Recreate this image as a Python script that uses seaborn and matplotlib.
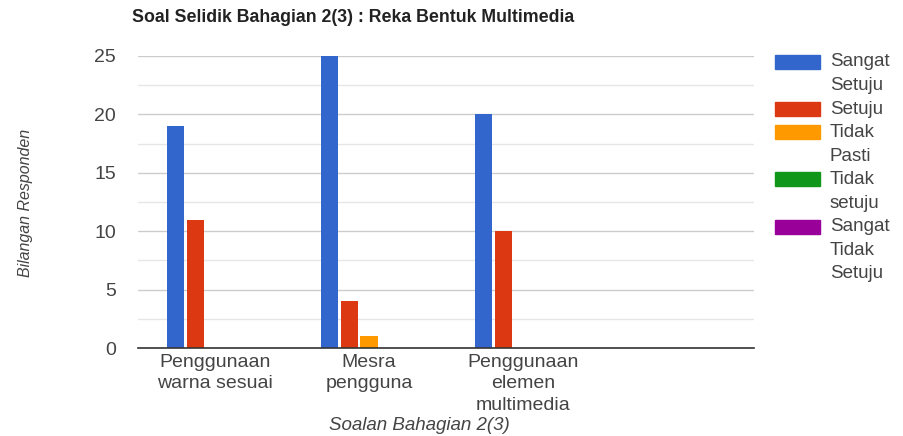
import pandas as pd
import numpy as np
import matplotlib
matplotlib.use("Agg")
import matplotlib.pyplot as plt
import seaborn as sns
from matplotlib.patches import Rectangle
from matplotlib.ticker import MultipleLocator

# data
soalan = ["Penggunaan\nwarna sesuai", "Mesra\npengguna", "Penggunaan\nelemen\nmultimedia"]
jawapan = ["Sangat\nSetuju", "Setuju", "Tidak\nPasti", "Tidak\nsetuju", "Sangat\nTidak\nSetuju"]
sangat_setuju = [19, 25, 20]
setuju = [11, 4, 10]
tidak_pasti = [0, 1, 0]
tidak_setuju = [0, 0, 0]
sangat_tidak_setuju = [0, 0, 0]
warna = ["#3366cc", "#dc3912", "#ff9900", "#109618", "#990099"]

series = [sangat_setuju, setuju, tidak_pasti, tidak_setuju, sangat_tidak_setuju]
rows = []
for j, vals in zip(jawapan, series):
    for s, v in zip(soalan, vals):
        rows.append({"soalan": s, "jawapan": j, "bilangan": v})
df = pd.DataFrame(rows)

sns.set_theme(style="white")
plt.rcParams['font.family'] = ['Liberation Sans', 'DejaVu Sans']

W, H = 904, 436
fig = plt.figure(figsize=(W / 100, H / 100), dpi=100)
ax = fig.add_axes([138 / W, 1 - 348 / H, (754 - 138) / W, (348 - 56) / H])

sns.barplot(data=df, x="soalan", y="bilangan", hue="jawapan", order=soalan,
            hue_order=jawapan, palette=warna, width=0.64, gap=0.12,
            linewidth=0, saturation=1, legend=False, ax=ax)

# 4 category slots like the original (last one empty)
ax.set_xlim(-0.5, 3.5)
ax.set_ylim(0, 25)
ax.yaxis.set_major_locator(MultipleLocator(5))
ax.yaxis.set_minor_locator(MultipleLocator(2.5))
ax.grid(axis="y", which="major", color="#cccccc", linewidth=1)
ax.grid(axis="y", which="minor", color="#e6e6e6", linewidth=1)
ax.set_axisbelow(True)
for s in ["top", "right", "left"]:
    ax.spines[s].set_visible(False)
ax.spines["bottom"].set_color("#333333")
ax.spines["bottom"].set_linewidth(1.2)
ax.spines["bottom"].set_zorder(5)

ax.set_xlabel("")
ax.set_ylabel("")
ax.tick_params(axis="y", which="both", length=0, pad=16, labelsize=14, labelcolor="#444444")
ax.tick_params(axis="x", length=0, pad=4, labelsize=14, labelcolor="#444444")
for t in ax.get_xticklabels():
    t.set_linespacing(1.35)

fig.text(132 / W, 1 - 18 / H, "Soal Selidik Bahagian 2(3) : Reka Bentuk Multimedia",
         ha="left", va="center", fontsize=12.8, fontweight="bold", color="#222222")
fig.text(419 / W, 1 - 425 / H, "Soalan Bahagian 2(3)", ha="center", va="center",
         fontsize=13.5, style="italic", color="#444444")
fig.text(26 / W, 1 - 203 / H, "Bilangan Responden", ha="center", va="center",
         rotation=90, fontsize=11.5, style="italic", color="#444444")

# legend on the right, patch lined up with first line of each label
y = 62
step = 23.5
for lab, c in zip(jawapan, warna):
    fig.add_artist(Rectangle((775 / W, 1 - (y + 7) / H), 45 / W, 14 / H,
                             transform=fig.transFigure, color=c))
    for k, line in enumerate(lab.split("\n")):
        fig.text(830 / W, 1 - (y + k * step) / H, line, ha="left", va="center",
                 fontsize=13.5, color="#444444")
    y += len(lab.split("\n")) * step

fig.savefig("out.png", dpi=100)
